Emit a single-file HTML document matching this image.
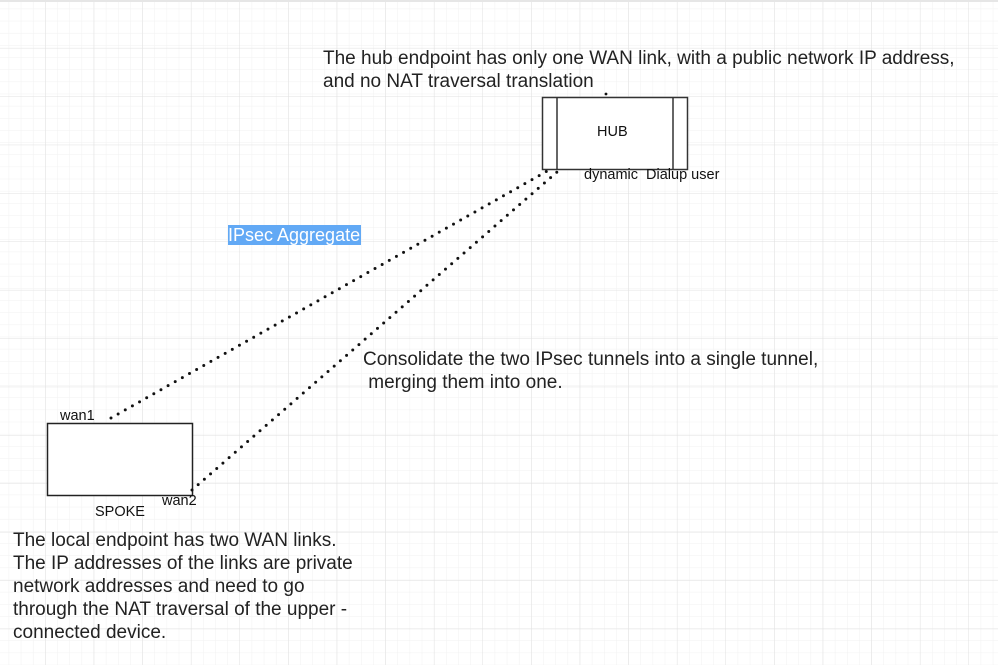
<!DOCTYPE html>
<html><head><meta charset="utf-8"><style>
body{margin:0;width:998px;height:665px;overflow:hidden;background:#fff;position:relative;font-family:"Liberation Sans",sans-serif}
.t{position:absolute;color:#222;font-size:19px;line-height:23px;white-space:nowrap}
.s{position:absolute;color:#111;font-size:14.5px;white-space:nowrap}
</style></head><body>
<svg width="998" height="665" style="position:absolute;left:0;top:0">
<defs>
<pattern id="mn" x="-3" y="-3" width="12.15" height="12.15" patternUnits="userSpaceOnUse"><path d="M12.15 0V12.15M0 12.15H12.15" stroke="#f1f1f1" stroke-width="1" fill="none"/></pattern>
<pattern id="mj" x="-3" y="0" width="48.6" height="48.4" patternUnits="userSpaceOnUse"><path d="M48.6 0V48.4M0 48.4H48.6" stroke="#e0e0e0" stroke-width="1" fill="none"/></pattern>
</defs>
<rect width="998" height="665" fill="url(#mn)"/>
<rect width="998" height="665" fill="url(#mj)"/>
<rect x="0" y="0" width="998" height="2" fill="#e6e6e6"/>
<rect x="542.5" y="97.5" width="145" height="72" fill="#fff" stroke="#333" stroke-width="1.5"/>
<line x1="557" y1="97" x2="557" y2="169" stroke="#333" stroke-width="1.5"/>
<line x1="673" y1="97" x2="673" y2="169" stroke="#333" stroke-width="1.5"/>
<rect x="47.5" y="423.5" width="145" height="72" fill="#fff" stroke="#222" stroke-width="1.5"/>
<line x1="111" y1="418" x2="549" y2="170" stroke="#111" stroke-width="3" stroke-dasharray="0 8.2" stroke-linecap="round"/>
<line x1="192" y1="490" x2="557" y2="172" stroke="#111" stroke-width="3" stroke-dasharray="0 8.2" stroke-linecap="round"/>
<circle cx="606" cy="94" r="1.4" fill="#111"/>
</svg>
<div class="t" style="left:323px;top:47px">The hub endpoint has only one WAN link, with a public network IP address,<br>and no NAT traversal translation</div>
<div class="s" style="left:597px;top:124px">HUB</div>
<div class="s" style="left:584px;top:167px">dynamic&nbsp; Dialup user</div>
<div style="position:absolute;left:228px;top:225px;width:133px;height:20px;background:#62a9f5;color:#fff;font-size:18px;line-height:20px;white-space:nowrap;overflow:hidden">IPsec Aggregate</div>
<div class="t" style="left:363px;top:348px">Consolidate the two IPsec tunnels into a single tunnel,<br>&nbsp;merging them into one.</div>
<div class="s" style="left:60px;top:408px">wan1</div>
<div class="s" style="left:162px;top:493px">wan2</div>
<div class="s" style="left:95px;top:504px">SPOKE</div>
<div class="t" style="left:13px;top:529px">The local endpoint has two WAN links.<br>The IP addresses of the links are private<br>network addresses and need to go<br>through the NAT traversal of the upper -<br>connected device.</div>
</body></html>
